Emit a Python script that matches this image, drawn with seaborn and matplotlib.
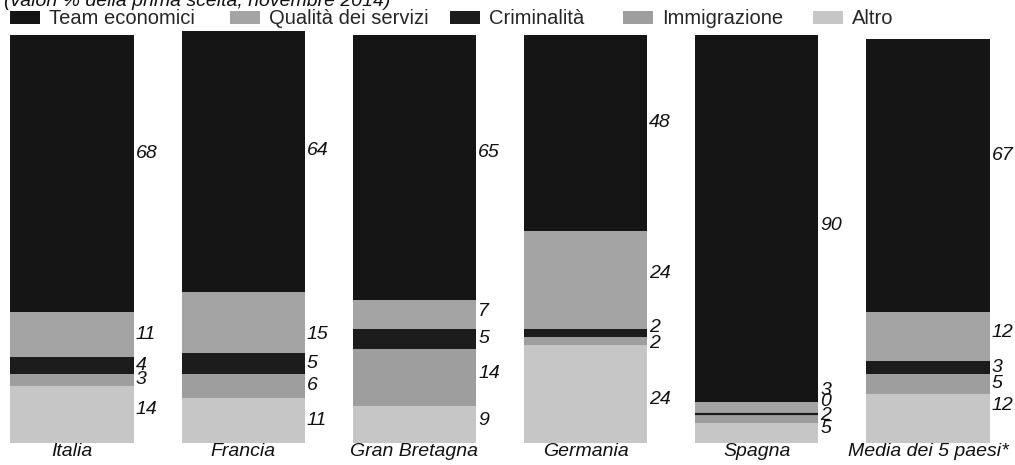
import numpy as np
import pandas as pd
import matplotlib
matplotlib.use("Agg")
import matplotlib.pyplot as plt
from matplotlib.patches import Patch
import seaborn as sns

# Survey shares (% of first choice), November 2014
paesi = ["Italia", "Francia", "Gran Bretagna", "Germania", "Spagna", "Media dei 5 paesi*"]
temi_economici = [68, 64, 65, 48, 90, 67]
qualita_servizi = [11, 15, 7, 24, 3, 12]
criminalita = [4, 5, 5, 2, 0, 3]
immigrazione = [3, 6, 14, 2, 2, 5]
altro = [14, 11, 9, 24, 5, 12]

# Stack order from the bottom up
serie = ["Altro", "Immigrazione", "Criminalità", "Qualità dei servizi", "Team economici"]
legenda = ["Team economici", "Qualità dei servizi", "Criminalità", "Immigrazione", "Altro"]
valori = {
    "Altro": altro,
    "Immigrazione": immigrazione,
    "Criminalità": criminalita,
    "Qualità dei servizi": qualita_servizi,
    "Team economici": temi_economici,
}
colori = {
    "Team economici": "#151515",
    "Qualità dei servizi": "#a4a4a4",
    "Criminalità": "#1c1c1c",
    "Immigrazione": "#9e9e9e",
    "Altro": "#c6c6c6",
}

# label nudges in px (positive = up)
nudge = {
    ("Italia", "Team economici"): 20,
    ("Italia", "Altro"): 5,
    ("Francia", "Team economici"): 11,
    ("Francia", "Qualità dei servizi"): -12,
    ("Gran Bretagna", "Team economici"): 15,
    ("Gran Bretagna", "Qualità dei servizi"): 3,
    ("Gran Bretagna", "Immigrazione"): 4,
    ("Gran Bretagna", "Altro"): 4,
    ("Germania", "Team economici"): 10,
    ("Germania", "Qualità dei servizi"): 6,
    ("Germania", "Immigrazione"): -3,
    ("Germania", "Altro"): -5,
    ("Spagna", "Team economici"): -7,
    ("Spagna", "Criminalità"): 3,
    ("Spagna", "Immigrazione"): 3,
    ("Spagna", "Altro"): 4,
    ("Media dei 5 paesi*", "Team economici"): 20,
    ("Media dei 5 paesi*", "Qualità dei servizi"): 4,
    ("Media dei 5 paesi*", "Altro"): 13,
}
legend_x = [10, 230, 450, 623, 813]

sns.set_theme(style="white")
plt.rcParams["font.family"] = ["Liberation Sans", "DejaVu Sans"]

W, H = 1015, 465
fig = plt.figure(figsize=(W / 100, H / 100), dpi=100)

ymax = 102
bottom_px, top_px = 443, 35
ax_h = (bottom_px - top_px) / H * ymax / 100
ax = fig.add_axes([0, (H - bottom_px) / H, 1, ax_h])

df = pd.DataFrame(valori, index=paesi)
cum = df[serie].cumsum(axis=1)

bar_w = 0.72
# Layered cumulative bars: tallest first, each lower layer drawn over it
for s in reversed(serie):
    d = pd.DataFrame({"paese": paesi, "cum": cum[s].values})
    sns.barplot(data=d, x="paese", y="cum", color=colori[s], width=bar_w,
                saturation=1, ax=ax, linewidth=0, errorbar=None)

# zero-height segments shown as a thin dark rule
for i, p in enumerate(paesi):
    for s in serie:
        if df.loc[p, s] == 0:
            ax.hlines(cum.loc[p, s], i - bar_w / 2, i + bar_w / 2,
                      color=colori[s], lw=1.6, zorder=5)

ax.set_ylim(0, ymax)
ax.set_xlim(-0.4206, 5.508)

# value labels beside each segment, spread apart where segments are thin
px_per_unit = (bottom_px - top_px) / 100
min_gap = 14 / px_per_unit
for i, p in enumerate(paesi):
    prev = None
    for s in serie:
        v = df.loc[p, s]
        y = cum.loc[p, s] - v / 2
        if prev is not None and y < prev + min_gap:
            y = prev + min_gap
        prev = y
        yy = y + nudge.get((p, s), 0) / px_per_unit
        ax.text(i + bar_w / 2 + 0.012, yy, f"{v}", ha="left", va="center",
                fontsize=14, fontstyle="italic", color="#111111")

ax.set_xlabel("")
ax.set_ylabel("")
ax.set_yticks([])
ax.set_xticks(range(len(paesi)))
ax.set_xticklabels(paesi, fontsize=14, fontstyle="italic", color="#111111")
ax.tick_params(axis="x", length=0, pad=0)
for sp in ax.spines.values():
    sp.set_visible(False)
ax.patch.set_alpha(0)

# legend entries at fixed horizontal positions across the top
for name, x in zip(legenda, legend_x):
    h = Patch(facecolor=colori[name], edgecolor="none", label=name)
    fig.legend(handles=[h], loc="center left", bbox_to_anchor=(x / W, 1 - 19 / H),
               frameon=False, fontsize=14.5, handlelength=1.5, handleheight=0.6,
               handletextpad=0.45, borderpad=0, borderaxespad=0)

fig.text(4 / W, 1 - 1 / H, "(valori % della prima scelta, novembre 2014)",
         ha="left", va="center", fontsize=14, fontstyle="italic", color="#111111")

fig.savefig("out.png", dpi=100)
